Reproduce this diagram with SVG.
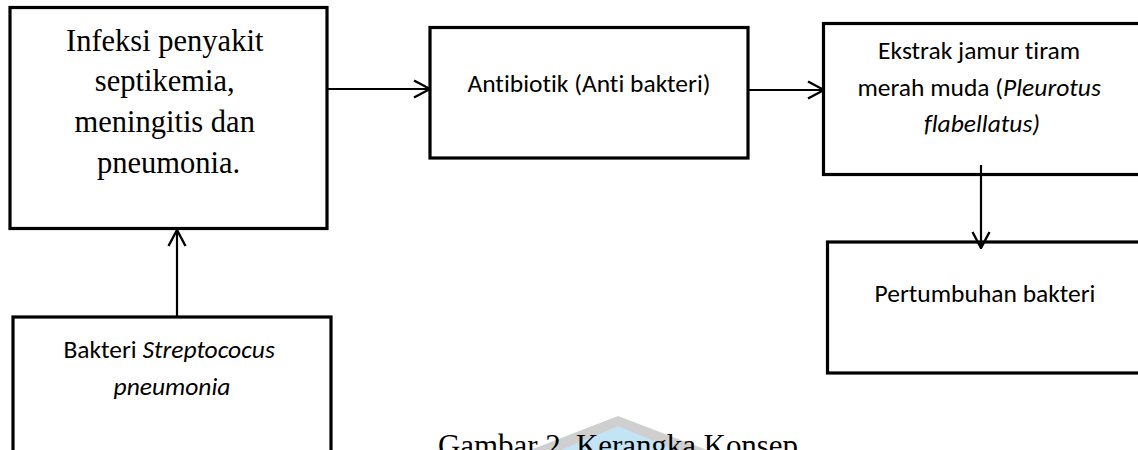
<svg xmlns="http://www.w3.org/2000/svg" width="1138" height="450" viewBox="0 0 1138 450">
<style>
.box{fill:#fff;stroke:#000;stroke-width:3.2;stroke-linejoin:miter}
.serif{font-family:"Liberation Serif","Times New Roman",serif;font-size:30.5px;fill:#000}
.cal{font-family:Carlito,Lato,"Open Sans",sans-serif;font-size:25.5px;fill:#000;font-variant-ligatures:none;font-feature-settings:"liga" 0,"dlig" 0}
.it{font-style:italic}
.conn{stroke:#000;stroke-width:2.2;fill:none}
</style>
<defs>
<marker id="arr" viewBox="0 0 18 20" refX="17" refY="10" markerWidth="18" markerHeight="20" markerUnits="userSpaceOnUse" orient="auto">
<path d="M1,1.5 L17,10 L1,18.5" fill="none" stroke="#000" stroke-width="2.4"/>
</marker>
</defs>
<rect width="1138" height="450" fill="#fff"/>
<g id="watermark">
<polygon points="525,452 618,416 712,452" fill="#cfcfcf"/>
<polygon points="556,452 618,426 680,452" fill="#c2e4f4"/>
</g>
<g id="caption">
<text class="serif" x="438" y="456" style="font-size:31px" textLength="360" lengthAdjust="spacing">Gambar 2. Kerangka Konsep</text>
</g>
<g id="node-infeksi">
<rect class="box" x="10" y="7.5" width="317" height="221"/>
<text class="serif" text-anchor="middle">
<tspan x="168.5" y="51">Infeksi penyakit</tspan>
<tspan x="168.5" y="91">septikemia,</tspan>
<tspan x="168.5" y="132">meningitis dan</tspan>
<tspan x="168.5" y="173">pneumonia.</tspan>
</text>
</g>
<g id="node-antibiotik">
<rect class="box" x="430" y="27.5" width="318" height="130.5"/>
<text class="cal" x="589" y="92" text-anchor="middle">Antibiotik (Anti bakteri)</text>
</g>
<g id="node-ekstrak">
<rect class="box" x="823.5" y="23.5" width="330" height="151"/>
<text class="cal" text-anchor="middle">
<tspan x="982" y="59">Ekstrak jamur tiram</tspan>
<tspan x="982" y="96">merah muda (<tspan class="it">Pleurotus</tspan></tspan>
<tspan x="982" y="132" class="it">flabellatus)</tspan>
</text>
</g>
<g id="node-pertumbuhan">
<rect class="box" x="827.5" y="242" width="330" height="131"/>
<text class="cal" x="985" y="302" text-anchor="middle">Pertumbuhan bakteri</text>
</g>
<g id="node-bakteri">
<rect class="box" x="13" y="317" width="318" height="160"/>
<text class="cal" text-anchor="middle">
<tspan x="172" y="358">Bakteri <tspan class="it">Streptococus</tspan></tspan>
<tspan x="172" y="395" class="it">pneumonia</tspan>
</text>
</g>
<g id="connectors">
<path class="conn" d="M327,89 L430,89" marker-end="url(#arr)"/>
<path class="conn" d="M748,90 L824,90" marker-end="url(#arr)"/>
<path class="conn" d="M981,165 L981,248" marker-end="url(#arr)"/>
<path class="conn" d="M177,317 L177,230" marker-end="url(#arr)"/>
</g>
</svg>
